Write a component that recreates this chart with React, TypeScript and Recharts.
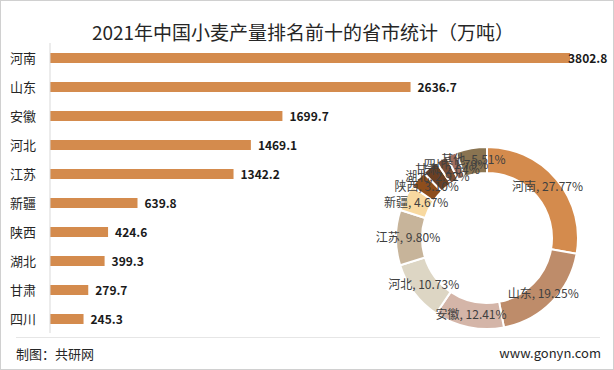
import { Bar, BarChart, Cell, LabelList, Pie, PieChart, XAxis, YAxis } from "recharts";

const provinces = ["河南", "山东", "安徽", "河北", "江苏", "新疆", "陕西", "湖北", "甘肃", "四川"];
const output = [3802.8, 2636.7, 1699.7, 1469.1, 1342.2, 639.8, 424.6, 399.3, 279.7, 245.3];

const shareNames = ["河南", "山东", "安徽", "河北", "江苏", "新疆", "陕西", "湖北", "甘肃", "四川", "其他"];
const shares = [27.77, 19.25, 12.41, 10.73, 9.8, 4.67, 3.1, 2.92, 2.04, 1.79, 5.51];
const shareColors = [
  "#d48b4d",
  "#be8c6a",
  "#d4b5a8",
  "#ddd6c4",
  "#c7b49a",
  "#f8d9a0",
  "#8e4e1c",
  "#6b3f22",
  "#7b4e34",
  "#a06e5e",
  "#8a7451",
];

const barData = provinces.map((name, i) => ({ name, value: output[i] }));
const pieData = shareNames.map((name, i) => ({ name, value: shares[i] }));

const FONT = '"Noto Sans CJK SC", "Noto Sans", sans-serif';
const RADIAN = Math.PI / 180;

function CategoryTick({ y, payload }: any) {
  return (
    <text x={10} y={y} dy={5} fontSize={13} fill="#262626" fontFamily={FONT}>
      {payload.value}
    </text>
  );
}

function ValueLabel({ x, y, width, height, value }: any) {
  const lx = Math.min(x + width + 7, 568);
  return (
    <text
      x={lx}
      y={y + height / 2}
      dy={4.5}
      fontSize={12}
      fontWeight="bold"
      fill="#1a1a1a"
      fontFamily={FONT}
    >
      {Number(value).toFixed(1)}
    </text>
  );
}

function SliceLabel({ cx, cy, midAngle, innerRadius, outerRadius, name, value }: any) {
  const r = (innerRadius + outerRadius) / 2 + 1;
  const x = cx + r * Math.cos(-midAngle * RADIAN);
  const y = cy + r * Math.sin(-midAngle * RADIAN);
  return (
    <text
      x={x}
      y={y}
      dy={4}
      textAnchor="middle"
      fontSize={12}
      fill="#404040"
      fontFamily={FONT}
    >
      {`${name}, ${Number(value).toFixed(2)}%`}
    </text>
  );
}

export default function App() {
  return (
    <div
      style={{
        position: "absolute",
        left: 0,
        top: 0,
        width: 614,
        height: 370,
        background: "#fff",
        boxSizing: "border-box",
        border: "1px solid #d0d0d0",
        fontFamily: FONT,
        overflow: "hidden",
      }}
    >
      <div
        style={{
          position: "absolute",
          left: 0,
          top: 19,
          width: 604,
          textAlign: "center",
          fontSize: 19,
          color: "#262626",
          lineHeight: "24px",
        }}
      >
        2021年中国小麦产量排名前十的省市统计（万吨）
      </div>

      <div style={{ position: "absolute", left: -1, top: -1 }}>
        <BarChart
          width={614}
          height={370}
          layout="vertical"
          data={barData}
          margin={{ top: 43, right: 44, bottom: 37, left: 0 }}
          barSize={10}
        >
          <XAxis type="number" domain={[0, 3802.8]} hide />
          <YAxis
            type="category"
            dataKey="name"
            width={50}
            tickLine={false}
            axisLine={{ stroke: "#d9d9d9" }}
            tick={<CategoryTick />}
          />
          <Bar dataKey="value" fill="#d48b4d" isAnimationActive={false}>
            <LabelList dataKey="value" content={<ValueLabel />} />
          </Bar>
        </BarChart>
      </div>

      <div style={{ position: "absolute", left: -1, top: -1 }}>
        <PieChart width={614} height={370}>
          <Pie
            data={pieData}
            dataKey="value"
            nameKey="name"
            cx={482}
            cy={233}
            innerRadius={65}
            outerRadius={91}
            startAngle={90}
            endAngle={-270}
            stroke="#ffffff"
            strokeWidth={2}
            labelLine={false}
            label={<SliceLabel />}
            isAnimationActive={false}
          >
            {pieData.map((d, i) => (
              <Cell key={d.name} fill={shareColors[i]} />
            ))}
          </Pie>
        </PieChart>
      </div>

      <div
        style={{
          position: "absolute",
          left: 15,
          top: 336,
          width: 584,
          height: 1,
          background: "#e6e6e6",
        }}
      />
      <div
        style={{
          position: "absolute",
          left: 15,
          top: 344,
          fontSize: 13,
          color: "#262626",
          lineHeight: "18px",
        }}
      >
        制图：共研网
      </div>
      <div
        style={{
          position: "absolute",
          right: 12,
          top: 343,
          fontSize: 13,
          color: "#262626",
          lineHeight: "18px",
        }}
      >
        www.gonyn.com
      </div>
    </div>
  );
}
